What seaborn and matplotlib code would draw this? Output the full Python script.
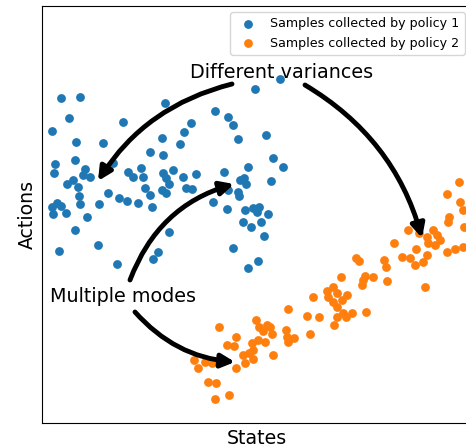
import numpy as np
import pandas as pd
import matplotlib
matplotlib.use("Agg")
import matplotlib.pyplot as plt
import seaborn as sns

# Values (arbitrary state / action units)
policy1_states = [61, 80, 69, 52, 76, 103, 123, 165, 55, 54, 75, 85, 83, 90, 73, 67, 78, 113, 79, 80,
                  52, 57, 61, 53, 66, 87, 75, 99, 108, 119, 127, 138, 152, 98, 59, 117, 128, 133, 141, 143,
                  145, 150, 150, 162, 163, 163, 166, 169, 162, 166, 173, 180, 184, 191, 183, 186, 192, 196, 169, 158,
                  153, 215, 228, 233, 238, 255, 280, 266, 273, 283, 248, 224, 240, 244, 246, 238, 239, 228, 213, 227,
                  271, 245, 253, 259, 257, 268, 243, 251, 261, 264, 233, 258, 248]
policy1_actions = [349, 350, 329, 316, 305, 304, 325, 344, 283, 274, 287, 278, 272, 270, 267, 263, 260, 284, 251, 243,
                   240, 244, 241, 233, 234, 230, 217, 243, 254, 249, 246, 244, 240, 202, 196, 183, 275, 270, 279, 270,
                   259, 252, 295, 309, 292, 274, 269, 263, 257, 254, 277, 303, 315, 324, 270, 259, 258, 273, 215, 195,
                   188, 336, 330, 322, 308, 358, 368, 312, 289, 280, 280, 275, 267, 269, 263, 255, 251, 257, 245, 238,
                   266, 237, 239, 240, 235, 233, 225, 220, 225, 211, 199, 186, 179]

policy2_states = [459, 447, 460, 463, 449, 448, 464, 408, 419, 427, 433, 437, 440, 435, 428, 394, 416, 447, 455, 463,
                  402, 410, 427, 423, 415, 425, 384, 386, 387, 356, 359, 365, 373, 363, 362, 341, 333, 327, 328, 337,
                  347, 342, 333, 337, 343, 352, 346, 337, 334, 366, 313, 307, 319, 288, 310, 286, 287, 294, 288, 256,
                  267, 270, 263, 272, 273, 265, 258, 252, 253, 249, 243, 245, 253, 236, 227, 234, 219, 236, 194, 198,
                  205, 212, 208, 216, 229, 215, 259]
policy2_actions = [265, 253, 245, 237, 230, 225, 220, 217, 214, 210, 217, 212, 207, 202, 204, 204, 198, 195, 198, 200,
                   190, 189, 192, 185, 182, 160, 187, 180, 166, 189, 186, 171, 170, 167, 162, 170, 160, 156, 150, 154,
                   152, 147, 145, 140, 134, 134, 130, 130, 122, 135, 150, 131, 130, 138, 113, 117, 110, 109, 105, 127,
                   122, 120, 116, 113, 92, 105, 107, 104, 97, 94, 92, 84, 88, 110, 102, 101, 120, 79, 87, 79,
                   85, 84, 65, 64, 52, 48, 120]

labels = ["Samples collected by policy 1", "Samples collected by policy 2"]
colors = ["#1f77b4", "#ff7f0e"]

fig = plt.figure(figsize=(4.66, 4.47), dpi=100)
ax = fig.add_axes([42 / 466, 24 / 447, 429 / 466, 417 / 447])

sns.scatterplot(x=policy1_states, y=policy1_actions, ax=ax, color=colors[0], s=40,
                linewidth=0, label=labels[0])
sns.scatterplot(x=policy2_states, y=policy2_actions, ax=ax, color=colors[1], s=40,
                linewidth=0, label=labels[1])

ax.set_xlim(42, 471)
ax.set_ylim(24, 441)
ax.set_xticks([])
ax.set_yticks([])
ax.set_xlabel("States", fontsize=13.6)
ax.set_ylabel("Actions", fontsize=13.6)
ax.legend(loc="upper right", fontsize=9.1)

arrow_kw = dict(arrowstyle="-|>", color="black", lw=3.5, mutation_scale=20, shrinkA=0, shrinkB=0)
ax.annotate("", xy=(98, 266), xytext=(232, 363),
            arrowprops=dict(connectionstyle="arc3,rad=0.2", **arrow_kw))
ax.annotate("", xy=(422, 209), xytext=(305, 362),
            arrowprops=dict(connectionstyle="arc3,rad=-0.2", **arrow_kw))
ax.annotate("", xy=(234, 263), xytext=(130, 167),
            arrowprops=dict(connectionstyle="arc3,rad=-0.25", **arrow_kw))
ax.annotate("", xy=(235, 85), xytext=(135, 135),
            arrowprops=dict(connectionstyle="arc3,rad=0.2", **arrow_kw))

ax.text(282, 375, "Different variances", fontsize=13.8, ha="center", va="center")
ax.text(123.5, 150, "Multiple modes", fontsize=13.8, ha="center", va="center")

fig.savefig("out.png", dpi=100)
